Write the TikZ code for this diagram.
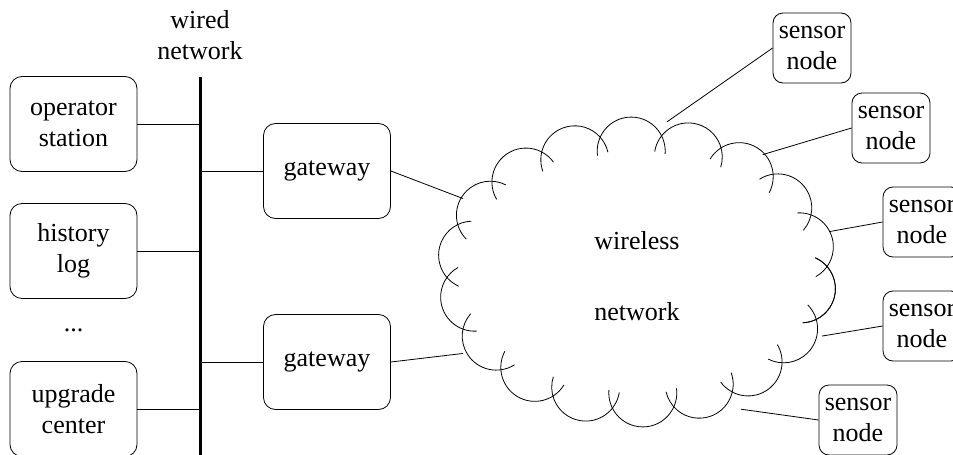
\documentclass[tikz,border=0pt]{standalone}
\usepackage{fontspec}
\setmainfont{Liberation Serif}
\usetikzlibrary{shapes.geometric}

\begin{document}
\begin{tikzpicture}[x=1pt,y=-1pt,line width=0.8pt]
			\tikzstyle{every node}=[font=\fontsize{26}{31}\selectfont,align=center]
			\tikzstyle{station}=[draw,rounded corners=12pt,minimum width=127pt,
				minimum height=95pt,inner sep=2pt]
			\tikzstyle{sensor}=[draw,rounded corners=10pt,minimum width=78pt,
				minimum height=70pt,inner sep=2pt]
			\useasboundingbox (0,0) rectangle (953,455);
			% wired network
			\node (wired) at (200,35) {wired\\network};
			\coordinate (bustop) at (200,77);
			\coordinate (busend) at (200,460);
			\draw[line width=3pt] (bustop) -- (busend);
			\node[station] (operator) at (73.5,124) {operator\\station};
			\node[station] (history) at (73.5,251) {history\\log};
			\node (dots) at (73.5,330) {...};
			\node[station] (upgrade) at (73.5,409) {upgrade\\center};
			\node[station] (gateA) at (327,171) {gateway};
			\node[station] (gateB) at (327,362) {gateway};
			\draw (operator.east) -- (operator.east -| bustop);
			\draw (history.east) -- (history.east -| bustop);
			\draw (upgrade.east) -- (upgrade.east -| bustop);
			\draw (gateA.west) -- (gateA.west -| bustop);
			\draw (gateB.west) -- (gateB.west -| bustop);
			% wireless network
			\node[ellipse,minimum width=400pt,minimum height=311pt] (wireless)
				at (637,276) {wireless\\[40pt]network};
			\foreach \t in {8,28,...,368} {
				\pgfmathsetmacro{\nrm}{atan2(166*sin(\t),121*cos(\t))}
				\pgfmathsetmacro{\hw}{128-acos(min(1,34.9*sqrt((1.66*sin(\t))^2+(1.21*cos(\t))^2)/68))}
				\draw ({637+166*cos(\t)},{272+121*sin(\t)}) ++(\nrm-\hw:34)
					arc[start angle=\nrm-\hw, end angle=\nrm+\hw, radius=34];
			}
			\node[sensor] (sensA) at (812,48) {sensor\\node};
			\node[sensor] (sensB) at (891,128) {sensor\\node};
			\node[sensor] (sensC) at (922,222) {sensor\\node};
			\node[sensor] (sensD) at (922,326) {sensor\\node};
			\node[sensor] (sensE) at (858,420) {sensor\\node};
			\draw (gateA.east) -- (wireless.156);
			\draw (gateB.east) -- (wireless.204);
			\draw (wireless.79) -- (sensA.west);
			\draw (wireless.44) -- (sensB.west);
			\draw (wireless.13) -- (sensC.west);
			\draw (wireless.342) -- (sensD.west);
			\draw (wireless.308) -- (sensE.west);
		\end{tikzpicture}
\end{document}
